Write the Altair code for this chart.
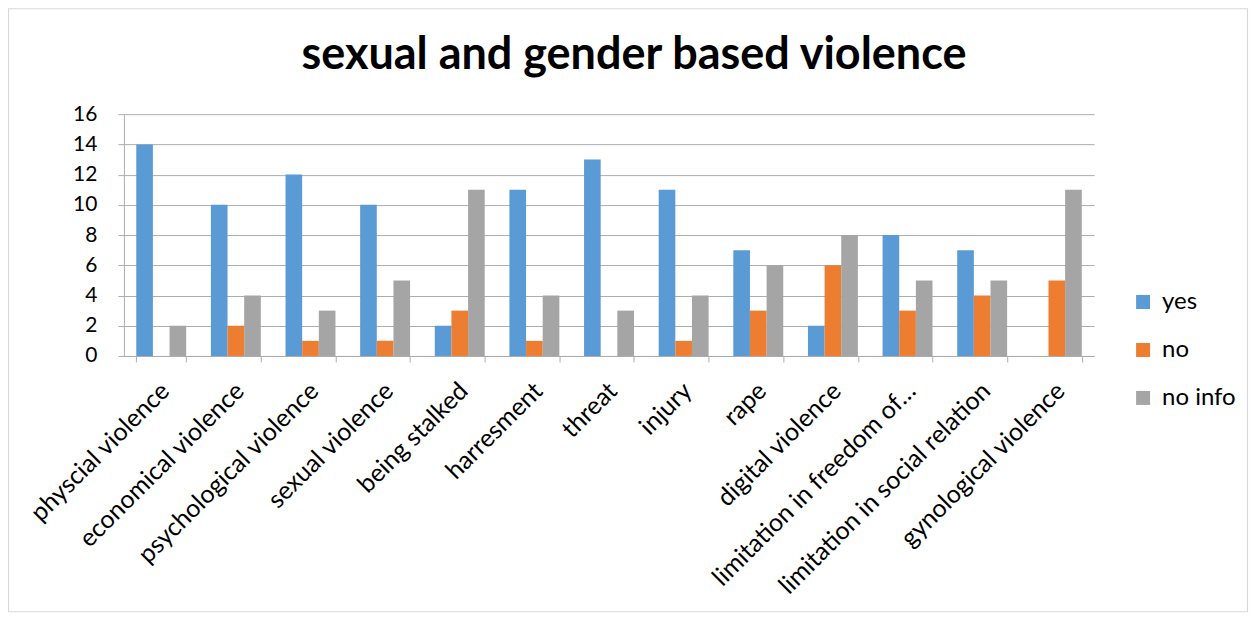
import altair as alt
import pandas as pd

categories = [
    "physcial violence", "economical violence", "psychological violence",
    "sexual violence", "being stalked", "harresment", "threat", "injury",
    "rape", "digital violence", "limitation in freedom of…",
    "limitation in social relation", "gynological violence",
]
series = ["yes", "no", "no info"]
yes_vals = [14, 10, 12, 10, 2, 11, 13, 11, 7, 2, 8, 7, 0]
no_vals = [0, 2, 1, 1, 3, 1, 0, 1, 3, 6, 3, 4, 5]
noinfo_vals = [2, 4, 3, 5, 11, 4, 3, 4, 6, 8, 5, 5, 11]
colors = ["#5B9BD5", "#ED7D31", "#A5A5A5"]
y_ticks = [0, 2, 4, 6, 8, 10, 12, 14, 16]

rows = []
for s, vals in zip(series, [yes_vals, no_vals, noinfo_vals]):
    for c, v in zip(categories, vals):
        rows.append({"category": c, "series": s, "value": v})
df = pd.DataFrame(rows)

FONT = "Lato"
LINE = "#ADADAD"

bars = alt.Chart(df).mark_bar().encode(
    x=alt.X("category:N", sort=categories,
            scale=alt.Scale(paddingInner=0.331, paddingOuter=0.1655),
            axis=alt.Axis(title=None, labelAngle=-45, labelFontSize=25,
                          labelFont=FONT, labelColor="#000000",
                          tickBand="extent", tickSize=6, tickColor=LINE,
                          domainColor=LINE, labelPadding=16,
                          labelOffset=-5,
                          labelLimit=400, grid=False)),
    xOffset=alt.XOffset("series:N", sort=series,
                        scale=alt.Scale(paddingInner=0, paddingOuter=0)),
    y=alt.Y("value:Q", scale=alt.Scale(domain=[0, 16]),
            axis=alt.Axis(title=None, values=y_ticks, labelFontSize=21,
                          labelFont=FONT, labelColor="#000000",
                          tickSize=6, tickColor=LINE,
                          domainColor=LINE, gridColor=LINE,
                          labelPadding=21)),
    color=alt.Color("series:N", sort=series,
                    scale=alt.Scale(domain=series, range=colors),
                    legend=alt.Legend(title=None, orient="none",
                                      legendX=1008, legendY=176,
                                      symbolType="square", symbolSize=196,
                                      symbolStrokeWidth=0,
                                      labelFontSize=24, labelFont=FONT,
                                      labelColor="#000000", rowPadding=24,
                                      labelOffset=7)),
)

border = alt.Chart(pd.DataFrame({"a": [0]})).mark_rect(
    fill=None, stroke="#D9D9D9", strokeWidth=1.2
).encode(x=alt.value(-115.5), x2=alt.value(1124.5),
         y=alt.value(-105.5), y2=alt.value(498))

chart = alt.layer(border, bars).properties(
    width=971, height=242,
    title=alt.TitleParams("sexual and gender based violence", fontSize=45,
                          font=FONT, fontWeight="bold", color="#000000",
                          anchor="middle", dx=25, offset=-106,
                          baseline="alphabetic"),
    autosize=alt.AutoSizeParams(type="none"),
    padding={"left": 116, "top": 106, "right": 155, "bottom": 258},
).configure_view(stroke=None).configure_axis(domainWidth=1)

chart.save("out.html", embed_options={"renderer": "svg", "actions": False})
